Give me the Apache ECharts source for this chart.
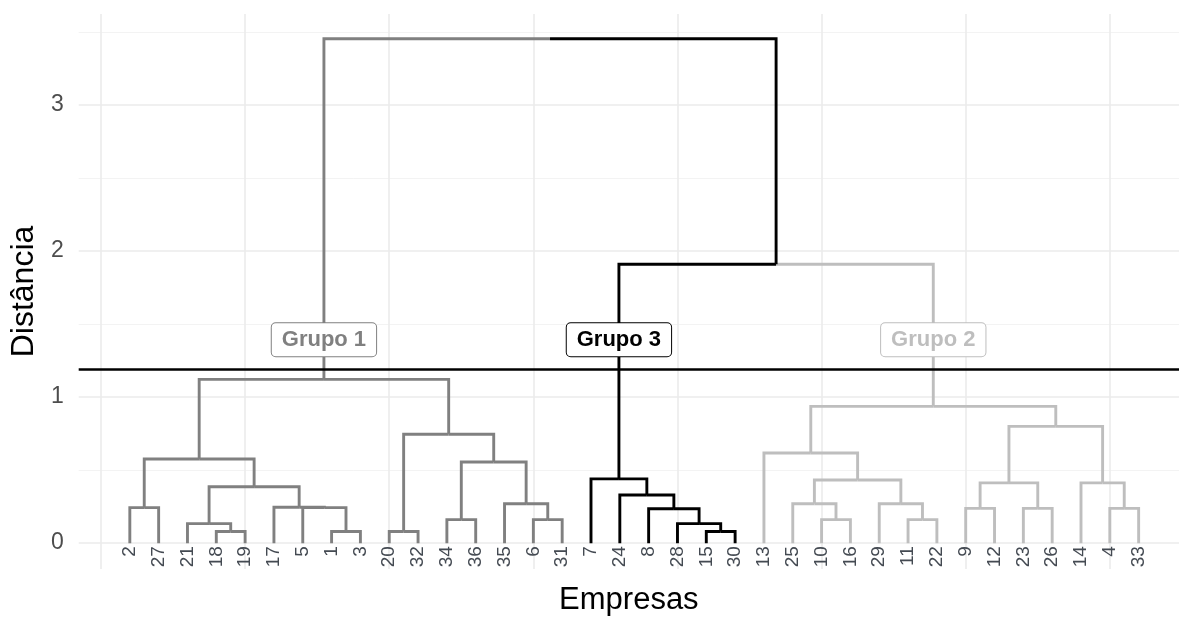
<!DOCTYPE html>
<html>
<head>
<meta charset="utf-8">
<script src="https://cdn.jsdelivr.net/npm/echarts@6/dist/echarts.min.js"></script>
<style>html,body{margin:0;padding:0;background:#fff;overflow:hidden}#chart{width:1179px;height:621px}</style>
</head>
<body>
<div id="chart"></div>
<script>
// ---------------- DATA ----------------
const leafLabels = ['2','27','21','18','19','17','5','1','3','20','32','34','36','35','6','31',
  '7','24','8','28','15','30','13','25','10','16','29','11','22','9','12','23','26','14','4','33'];
// hclust-style merge table: negative = leaf (company number), positive = earlier merge (1-based)
const mergeLeft   = [-18, -1, -20, -15, -21, -28, -34, -6, -10, -11, -2, -5, -17, -8, -35, -25, -29, -9, -23, -4,
                     -24, 5, 18, -14, 16, -7, 7, 11, -13, 3, 23, 29, 28, 26, 33];
const mergeRight  = [-19, -3, -32, -30, 1, 4, -36, -31, -16, -22, -27, 2, 12, 6, 8, 9, 10, -12, -26, -33,
                     14, 13, 19, 20, 17, 21, 15, 22, 25, 27, 24, 31, 30, 32, 34];
const mergeHeight = [0.08, 0.08, 0.08, 0.08, 0.134, 0.134, 0.161, 0.161, 0.161, 0.161, 0.243, 0.243, 0.246, 0.236,
                     0.27, 0.27, 0.27, 0.238, 0.238, 0.238, 0.33, 0.386, 0.413, 0.413, 0.433, 0.44, 0.556, 0.576,
                     0.617, 0.746, 0.80, 0.937, 1.122, 1.91, 3.454];
const cutHeight = 1.19;
const groupNames = ['Grupo 1', 'Grupo 3', 'Grupo 2'];   // clusters from left to right
const yTickValues = [0, 1, 2, 3];
const xTitle = 'Empresas';
const yTitle = 'Distância';

// ---------------- STYLE ----------------
const groupColors = ['#808080', '#000000', '#bebebe'];
const aboveColor = '#000000';
const FONT = '"Liberation Sans", Arial, sans-serif';

// ---------------- BUILD TREE ----------------
const leafPos = {};
leafLabels.forEach((l, i) => { leafPos[l] = i + 1; });
const nodes = [];
function info(c) {
  return c < 0 ? { x: leafPos[String(-c)], h: 0 } : { x: nodes[c - 1].x, h: nodes[c - 1].h };
}
for (let i = 0; i < mergeHeight.length; i++) {
  const a = info(mergeLeft[i]), b = info(mergeRight[i]);
  nodes.push({ x: (a.x + b.x) / 2, h: mergeHeight[i], a: mergeLeft[i], b: mergeRight[i] });
}
const clusterRoots = [];
nodes.forEach(n => {
  if (n.h >= cutHeight) {
    [n.a, n.b].forEach(c => {
      const ci = info(c);
      if (ci.h < cutHeight) clusterRoots.push({ x: ci.x, h: ci.h, c: c });
    });
  }
});
clusterRoots.sort((p, q) => p.x - q.x);
const childCluster = {};
clusterRoots.forEach((r, k) => { childCluster[r.c] = k; });
for (let i = nodes.length - 1; i >= 0; i--) {
  const n = nodes[i];
  const own = childCluster[i + 1] !== undefined ? childCluster[i + 1] : -1;
  [n.a, n.b].forEach(c => {
    if (childCluster[c] === undefined) childCluster[c] = own;
  });
}
const segs = [];
nodes.forEach(n => {
  [n.a, n.b].forEach(c => {
    const ci = info(c);
    const cl = childCluster[c];
    segs.push([n.x, n.h, ci.x, ci.h, cl < 0 ? 3 : cl]);
  });
});
const segColors = groupColors.concat([aboveColor]);
const groupLabelY = 1.393;
const groupData = clusterRoots.map((r, k) => ({
  value: [r.x, groupLabelY],
  name: groupNames[k],
  label: { color: groupColors[k], borderColor: groupColors[k] }
}));

// ---------------- CHART ----------------
const chart = echarts.init(document.getElementById('chart'), null, { renderer: 'canvas', width: 1179, height: 621 });
chart.setOption({
  animation: false,
  backgroundColor: '#ffffff',
  grid: { left: 76.7, right: 0, top: 14, bottom: 48.3, containLabel: false },
  xAxis: {
    type: 'value', min: -0.774, max: 37.4, minInterval: 5, maxInterval: 5,
    axisLine: { show: false }, axisTick: { show: false }, axisLabel: { show: false },
    splitLine: { show: true, showMinLine: false, showMaxLine: false, lineStyle: { color: '#ebebeb', width: 1.6 } },
    name: xTitle, nameLocation: 'middle', nameGap: 16,
    nameTextStyle: { fontFamily: FONT, fontSize: 31, color: '#000', verticalAlign: 'top' }
  },
  yAxis: {
    type: 'value', min: -0.177, max: 3.624, minInterval: 1, maxInterval: 1,
    axisLine: { show: false }, axisTick: { show: false },
    axisLabel: {
      showMinLabel: false, showMaxLabel: false, margin: 15,
      fontFamily: FONT, fontSize: 23, color: '#4d4d4d',
      formatter: v => (yTickValues.indexOf(v) >= 0 ? String(v) : '')
    },
    splitLine: { show: true, showMinLine: false, showMaxLine: false, lineStyle: { color: '#ebebeb', width: 1.6 } },
    minorTick: { show: false, splitNumber: 2 },
    minorSplitLine: { show: true, lineStyle: { color: '#f3f3f3', width: 1 } },
    name: yTitle, nameLocation: 'middle', nameGap: 32,
    nameTextStyle: { fontFamily: FONT, fontSize: 32, color: '#000' }
  },
  series: [
    {
      type: 'custom',
      coordinateSystem: 'cartesian2d',
      encode: { x: [0, 2], y: [1, 3] },
      data: segs,
      z: 3,
      silent: true,
      renderItem: function (params, api) {
        const p0 = api.coord([api.value(0), api.value(1)]);
        const p1 = api.coord([api.value(2), api.value(1)]);
        const p2 = api.coord([api.value(2), api.value(3)]);
        return {
          type: 'polyline',
          shape: { points: [p0, p1, p2] },
          style: { stroke: segColors[api.value(4)], lineWidth: 2.9, fill: null, lineJoin: 'miter', lineCap: 'butt' }
        };
      }
    },
    {
      type: 'scatter',
      data: leafLabels.map((l, i) => [i + 1, 0]),
      symbolSize: 0,
      silent: true,
      z: 4,
      itemStyle: { opacity: 1 },
      label: {
        show: true,
        position: 'bottom',
        distance: 3,
        rotate: 90,
        align: 'right',
        verticalAlign: 'middle',
        fontFamily: FONT,
        fontSize: 19,
        color: '#444a52',
        opacity: 1,
        formatter: p => leafLabels[p.dataIndex]
      },
      markLine: {
        silent: true,
        symbol: 'none',
        label: { show: false },
        lineStyle: { color: '#000', width: 2.7, type: 'solid', opacity: 1 },
        data: [{ yAxis: cutHeight }],
        z: 5
      }
    },
    {
      type: 'scatter',
      data: groupData,
      symbolSize: 0,
      silent: true,
      z: 10,
      itemStyle: { opacity: 1 },
      label: {
        show: true,
        position: 'inside',
        opacity: 1,
        formatter: p => p.name,
        fontFamily: FONT,
        fontSize: 22,
        fontWeight: 'bold',
        backgroundColor: '#ffffff',
        borderWidth: 1,
        borderRadius: 4,
        padding: [6, 10, 5, 10]
      }
    }
  ]
});
</script>
</body>
</html>
